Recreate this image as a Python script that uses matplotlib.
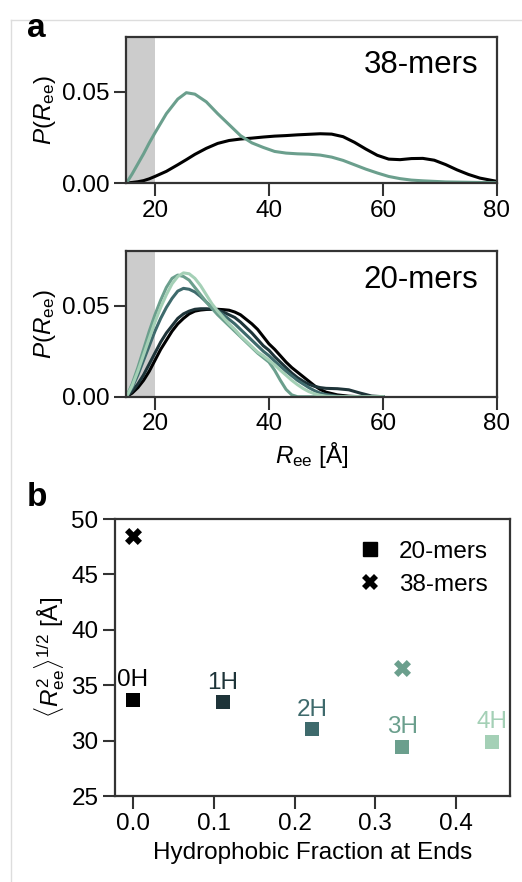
import matplotlib
matplotlib.use('Agg')
import matplotlib.pyplot as plt
from matplotlib.lines import Line2D

plt.rcParams['font.family'] = ['Liberation Sans', 'DejaVu Sans']
plt.rcParams['mathtext.fontset'] = 'custom'
plt.rcParams['mathtext.rm'] = 'Liberation Sans'
plt.rcParams['mathtext.it'] = 'Liberation Sans:italic'
plt.rcParams['mathtext.bf'] = 'Liberation Sans:bold'

# colours for 0H..4H
colors = ['#000000', '#1e3439', '#3e6a6c', '#6b9f8d', '#a4d0b6']
labels_h = ['0H', '1H', '2H', '3H', '4H']

# --- panel a, 38-mers: P(Ree)
x38 = [15, 16, 17, 18, 19, 20, 22, 24, 25.5, 27, 29, 31, 33, 35, 37, 39, 41, 43,
       45, 47, 49, 51, 53, 55, 57, 59, 61, 63, 65, 67, 69, 71, 73, 75, 77, 80]
p38_0h = [0, .0003, .0007, .0013, .0023, .0036, .0064, .010, .0128, .0157, .019,
          .0217, .0233, .0241, .0246, .0252, .0257, .026, .0264, .0267, .027, .0268,
          .0254, .0223, .0186, .0152, .0131, .0128, .0134, .0135, .0125, .0101,
          .0072, .0047, .0027, .0009]
p38_3h = [0, .005, .0105, .016, .022, .0275, .038, .046, .0495, .0487, .0445, .038,
          .032, .026, .022, .0195, .0173, .0164, .016, .0158, .0153, .0142, .0124,
          .010, .0076, .0055, .0036, .0024, .0016, .0012, .0009, .0006, .0005,
          .0004, .0003, .0002]

# --- panel a, 20-mers
x20 = list(range(15, 51)) + [52, 54, 56, 58, 60]
p20_0h = [0, .002, .005, .009, .014, .020, .026, .031, .036, .040, .043, .0455, .047,
          .0476, .0479, .048, .048, .0478, .0475, .0465, .045, .0425, .040, .037,
          .033, .029, .026, .0225, .019, .016, .0135, .011, .0085, .006, .004,
          .0025, .001, .0003, 0, 0, 0]
p20_1h = [0, .003, .007, .012, .018, .024, .030, .035, .039, .043, .0455, .047, .048,
          .0483, .0483, .048, .0475, .0465, .045, .0435, .041, .038, .035, .0315,
          .028, .0255, .022, .019, .016, .013, .0105, .0085, .0068, .0057, .005,
          .0046, .0044, .0038, .002, .0004, 0]
p20_2h = [0, .005, .012, .020, .028, .036, .043, .049, .054, .058, .0595, .059, .0575,
          .055, .052, .049, .047, .045, .0425, .040, .037, .034, .031, .028, .025,
          .0225, .0195, .0168, .014, .0115, .009, .007, .005, .0033, .002, .0012,
          .0003, 0, 0, 0, 0]
p20_3h = [0, .007, .016, .026, .036, .045, .053, .060, .065, .0668, .066, .064, .060,
          .056, .052, .0485, .045, .042, .039, .036, .033, .030, .027, .024, .0215,
          .019, .0145, .009, .004, .001, 0, 0, 0, 0, 0, 0, 0, 0, 0, 0, 0]
p20_4h = [0, .006, .014, .023, .032, .041, .049, .056, .062, .066, .068, .0675, .065,
          .061, .056, .051, .047, .0435, .040, .037, .0335, .0305, .0275, .0245,
          .0225, .020, .0175, .0145, .0118, .009, .0066, .0045, .0028, .0016, .0008,
          .0003, 0, 0, 0, 0, 0]
p20 = [p20_0h, p20_1h, p20_2h, p20_3h, p20_4h]

# --- panel b
frac_20 = [0, 1/9, 2/9, 3/9, 4/9]
ree_20 = [33.7, 33.5, 31.05, 29.45, 29.9]
frac_38 = [0, 3/9]
ree_38 = [48.45, 36.55]
colors_38 = [colors[0], colors[3]]

FS = 17.5
spine_c = '#333333'

fig = plt.figure(figsize=(5.22, 8.82), dpi=100)


def style(ax):
    for s in ax.spines.values():
        s.set_color(spine_c)
        s.set_linewidth(1.6)
    ax.tick_params(direction='out', length=9, width=1.5, color=spine_c,
                   labelsize=FS, pad=3)


ax1 = fig.add_axes([0.2423, 0.7925, 0.7097, 0.1655])
ax2 = fig.add_axes([0.2423, 0.5502, 0.7097, 0.1652])
ax3 = fig.add_axes([0.2203, 0.0975, 0.7567, 0.314])

# 38-mers
ax1.axvspan(15, 20, color='#cccccc', lw=0, zorder=0)
ax1.plot(x38, p38_0h, color=colors[0], lw=2.2)
ax1.plot(x38, p38_3h, color=colors[3], lw=2.2)
ax1.text(0.95, 0.81, '38-mers', transform=ax1.transAxes, ha='right', va='center',
         fontsize=22.5)

# 20-mers
ax2.axvspan(15, 20, color='#cccccc', lw=0, zorder=0)
for p, c in zip(p20, colors):
    ax2.plot(x20, p, color=c, lw=2.2)
ax2.text(0.95, 0.80, '20-mers', transform=ax2.transAxes, ha='right', va='center',
         fontsize=22.5)
ax2.set_xlabel(r'$R_{\mathrm{ee}}$ [Å]', fontsize=FS, labelpad=3)

for ax in (ax1, ax2):
    ax.set_xlim(15, 80)
    ax.set_ylim(0, 0.08)
    ax.set_xticks([20, 40, 60, 80])
    ax.set_yticks([0, 0.05])
    ax.set_yticklabels(['0.00', '0.05'])
    ax.set_ylabel(r'$P(R_{\mathrm{ee}})$', fontsize=FS, labelpad=3)
    style(ax)

# panel b
for f, r, c, lab in zip(frac_20, ree_20, colors, labels_h):
    ax3.scatter(f, r, marker='s', s=95, color=c, lw=0, zorder=3)
    ax3.annotate(lab, (f, r), xytext=(0, 6), textcoords='offset points',
                 ha='center', va='bottom', color=c, fontsize=FS)
for f, r, c in zip(frac_38, ree_38, colors_38):
    ax3.scatter(f, r, marker='X', s=150, color=c, lw=0, zorder=3)

ax3.set_ylim(25, 50)
ax3.set_xlim(-0.0222, 0.4667)
ax3.set_xticks([0, 0.1, 0.2, 0.3, 0.4])
ax3.set_yticks([25, 30, 35, 40, 45, 50])
ax3.set_xlabel('Hydrophobic Fraction at Ends', fontsize=FS, labelpad=5)
ax3.set_ylabel(r'$\langle R_{\mathrm{ee}}^{2}\rangle^{1/2}$ [Å]', fontsize=FS,
               labelpad=3)
style(ax3)

handles = [Line2D([], [], marker='s', ls='', color='k', markersize=9.5),
           Line2D([], [], marker='X', ls='', color='k', markersize=11, mew=0)]
ax3.legend(handles, ['20-mers', '38-mers'], loc='upper right', frameon=False,
           fontsize=FS, handlelength=1.0, handletextpad=0.7, borderaxespad=0.5,
           labelspacing=0.45)

# panel letters
fig.text(0.052, 0.985, 'a', fontsize=24, fontweight='bold', va='top')
fig.text(0.052, 0.453, 'b', fontsize=24, fontweight='bold', va='top')

# faint frame of the original figure
fig.add_artist(Line2D([10.5 / 522, 10.5 / 522], [0, 1 - 20 / 882],
                      transform=fig.transFigure, color='#dddddd', lw=1))
fig.add_artist(Line2D([10.5 / 522, 1], [1 - 20 / 882, 1 - 20 / 882],
                      transform=fig.transFigure, color='#dddddd', lw=1))

fig.savefig('out.png', dpi=100)
